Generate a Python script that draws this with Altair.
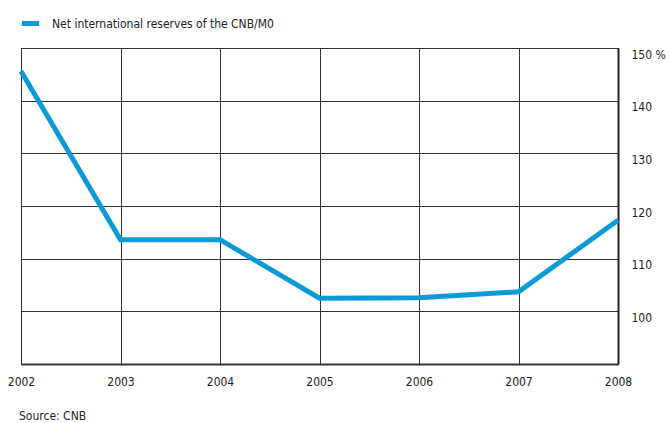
import altair as alt
import pandas as pd

years = [2002, 2003, 2004, 2005, 2006, 2007, 2008]
values = [145.6, 113.6, 113.6, 102.5, 102.6, 103.7, 117.3]
series_name = "Net international reserves of the CNB/M0"
source_text = "Source: CNB"
FONT = "DejaVu Sans Condensed, Liberation Sans, sans-serif"

df = pd.DataFrame({"year": years, "value": values, "series": [series_name] * len(years)})

line = alt.Chart(df).mark_line(strokeWidth=5, strokeJoin="miter", clip=False).encode(
    x=alt.X("year:Q", scale=alt.Scale(domain=[2002, 2008], nice=False),
            axis=alt.Axis(values=years, format="d", title=None, grid=True,
                          gridColor="#333", gridWidth=1, ticks=False,
                          domain=True, domainColor="#333", domainWidth=2,
                          labelPadding=12, labelFontSize=12, labelFont=FONT,
                          labelColor="#222", labelFlush=False)),
    y=alt.Y("value:Q", scale=alt.Scale(domain=[90, 150], nice=False, zero=False),
            axis=alt.Axis(orient="right", values=[100, 110, 120, 130, 140, 150],
                          title=None, grid=True, gridColor="#333", gridWidth=1,
                          ticks=False, domain=True, domainColor="#222", domainWidth=2,
                          labelPadding=13, labelFontSize=12, labelFont=FONT,
                          labelColor="#222", labelAlign="left", labelBaseline="middle",
                          labelOffset=6,
                          labelExpr="datum.value == 150 ? '150  %' : datum.label")),
    color=alt.Color("series:N", scale=alt.Scale(range=["#0a9ad6"]),
                    legend=alt.Legend(orient="none", legendX=-2, legendY=-36, title=None,
                                      symbolType="stroke", symbolStrokeWidth=5,
                                      symbolSize=300, labelFontSize=12, labelFont=FONT,
                                      labelColor="#222", labelOffset=10, labelLimit=500)),
)

src = alt.Chart(pd.DataFrame({"t": [source_text]})).mark_text(
    align="left", baseline="middle", font=FONT, fontSize=12, color="#222"
).encode(text="t:N", x=alt.value(-2), y=alt.value(368))

chart = alt.layer(line, src).properties(
    width=597, height=316,
    autosize=alt.AutoSizeParams(type="none"),
    padding={"left": 21, "top": 48, "right": 51, "bottom": 59},
).configure_view(stroke="#333", strokeWidth=1)

chart.save("out.html", embed_options={"renderer": "svg", "actions": False})
